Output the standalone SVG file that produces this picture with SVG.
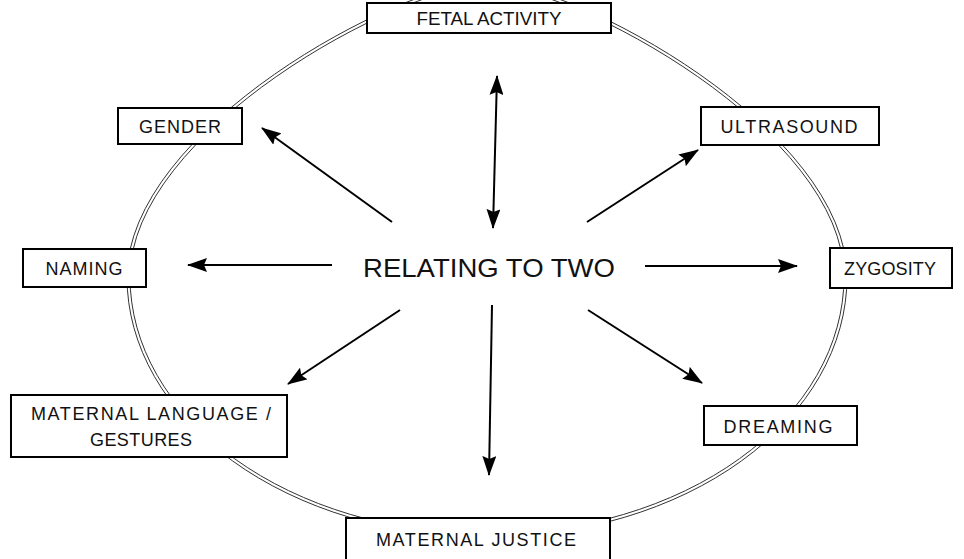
<svg xmlns="http://www.w3.org/2000/svg" width="964" height="559" viewBox="0 0 964 559">
<defs>
<style>
.ring{fill:none;stroke:#333;stroke-width:1}
.box{fill:#fff;stroke:#000;stroke-width:2}
.lbl{font-family:"Liberation Sans",Arial,sans-serif;font-size:18px;fill:#111;text-anchor:middle}
.ctr{font-family:"Liberation Sans",Arial,sans-serif;font-size:25px;fill:#111;text-anchor:middle}
.arr{stroke:#000;stroke-width:2;fill:none;marker-end:url(#ah)}
</style>
<marker id="ah" markerUnits="userSpaceOnUse" markerWidth="20" markerHeight="14" refX="19" refY="7" orient="auto-start-reverse">
<path d="M0,0 L20,7 L0,14 L3,7 Z" fill="#000"/>
</marker>
</defs>
<rect width="964" height="559" fill="#fff"/>
<g id="ring">
<path class="ring" d="M127,277 C127,130 400,-18 487,-18 C574,-18 847,130 847,277 A360,260 0 0 1 487,537 A360,260 0 0 1 127,277 Z"/>
<path class="ring" d="M130,277 C130,132 401,-15 487,-15 C573,-15 844,132 844,277 A357,257 0 0 1 487,534 A357,257 0 0 1 130,277 Z"/>
</g>
<g id="connectors">
<line class="arr" x1="495" y1="152" x2="497" y2="76"/>
<line class="arr" x1="495" y1="152" x2="493" y2="228"/>
<line class="arr" x1="492" y1="305" x2="489" y2="475"/>
<line class="arr" x1="332" y1="265" x2="188" y2="265"/>
<line class="arr" x1="645" y1="266" x2="797" y2="266"/>
<line class="arr" x1="392" y1="222" x2="262" y2="128"/>
<line class="arr" x1="587" y1="222" x2="698" y2="150"/>
<line class="arr" x1="400" y1="310" x2="288" y2="384"/>
<line class="arr" x1="588" y1="310" x2="702" y2="383"/>
</g>
<g id="center"><text class="ctr" x="489" y="277" textLength="252" lengthAdjust="spacingAndGlyphs">RELATING TO TWO</text></g>
<g id="fetal"><rect class="box" x="367" y="3" width="244" height="30"/><text class="lbl" x="489" y="25" textLength="145" lengthAdjust="spacingAndGlyphs">FETAL ACTIVITY</text></g>
<g id="gender"><rect class="box" x="118" y="108" width="124" height="36"/><text class="lbl" x="180" y="133" textLength="82">GENDER</text></g>
<g id="ultrasound"><rect class="box" x="701" y="107" width="178" height="38"/><text class="lbl" x="789" y="133" textLength="137">ULTRASOUND</text></g>
<g id="naming"><rect class="box" x="23" y="249" width="123" height="38"/><text class="lbl" x="84" y="275" textLength="77">NAMING</text></g>
<g id="zygosity"><rect class="box" x="830" y="248" width="122" height="40"/><text class="lbl" x="890" y="275" textLength="92">ZYGOSITY</text></g>
<g id="maternal-language"><rect class="box" x="11" y="395" width="276" height="62"/><text class="lbl" x="151" y="420" textLength="240">MATERNAL LANGUAGE /</text><text class="lbl" x="141" y="446" textLength="102">GESTURES</text></g>
<g id="dreaming"><rect class="box" x="704" y="406" width="153" height="39"/><text class="lbl" x="778" y="433" textLength="109">DREAMING</text></g>
<g id="maternal-justice"><rect class="box" x="346" y="518" width="264" height="42"/><text class="lbl" x="476" y="546" textLength="200">MATERNAL JUSTICE</text></g>
</svg>
